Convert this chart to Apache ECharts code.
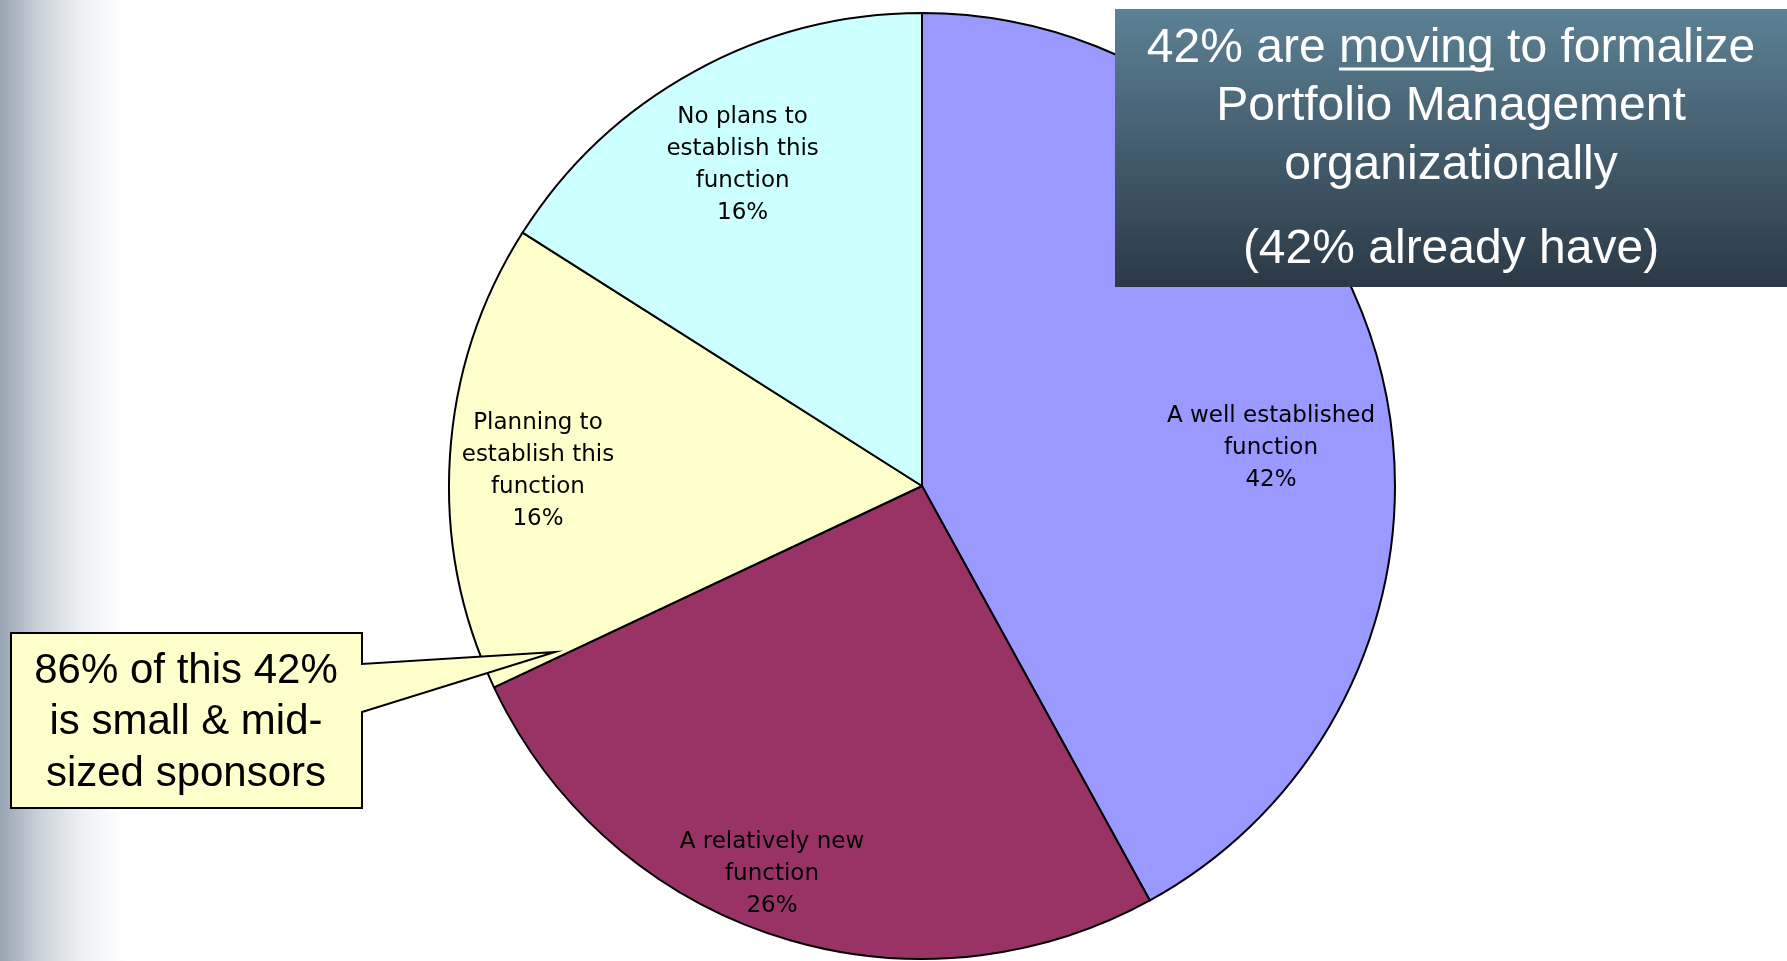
<!DOCTYPE html>
<html>
<head>
<meta charset="utf-8">
<script src="https://cdn.jsdelivr.net/npm/echarts@6/dist/echarts.min.js"></script>
<style>
  html, body { margin: 0; padding: 0; background: #ffffff; }
  #chart { width: 1787px; height: 961px; }
</style>
</head>
<body>
<div id="chart"></div>
<script>
// Status of the Portfolio Management function among sponsors
const categories = [
  'A well established\nfunction',
  'A relatively new\nfunction',
  'Planning to\nestablish this\nfunction',
  'No plans to\nestablish this\nfunction'
];
const shares = [42, 26, 16, 16];
const sliceColors = ['#9999FF', '#993366', '#FFFFCC', '#CCFFFF'];

// Headline box and callout wording
const headlineLines = ['42% are moving to formalize', 'Portfolio Management', 'organizationally', '(42% already have)'];
const underlinedWord = 'moving';
const calloutLines = ['86% of this 42%', 'is small & mid-', 'sized sponsors'];

// Per-slice label nudges (px) away from the default mid-radius spot
const labelNudge = [[117, 22], [-76, 160], [-145, 0], [-64, -111]];

const chart = echarts.init(document.getElementById('chart'), null, { renderer: 'canvas' });

// headline and callout geometry
const HEAD = { x: 1115, y: 9, w: 672, h: 278, cx: 1451, lineY: [49, 107, 166, 250], size: 48, sx: 1 };
const CALL = { x: 11, y: 633, w: 351, h: 175, cx: 186, lineY: [671, 722, 774], size: 42, sx: 1 };

// measure the underlined word inside the first headline line
const ctx = document.createElement('canvas').getContext('2d');
ctx.font = HEAD.size + 'px "Liberation Sans"';
const firstLine = headlineLines[0];
const idx = firstLine.indexOf(underlinedWord);
const wFull = ctx.measureText(firstLine).width * HEAD.sx;
const wPre = ctx.measureText(firstLine.slice(0, idx)).width * HEAD.sx;
const wWord = ctx.measureText(underlinedWord).width * HEAD.sx;
const ulX1 = HEAD.cx - wFull / 2 + wPre;
const ulX2 = ulX1 + wWord;

function textLine(str, cx, cy, size, sx, color) {
  return {
    type: 'text', x: cx, y: cy, scaleX: sx, z: 120,
    style: {
      text: str, x: 0, y: 0, fill: color,
      font: size + 'px "Liberation Sans", Arial, sans-serif',
      align: 'center', verticalAlign: 'middle'
    }
  };
}

const graphics = [
  // soft grey band along the left edge
  {
    type: 'rect', z: -10, silent: true,
    shape: { x: 0, y: 0, width: 125, height: 961 },
    style: {
      fill: new echarts.graphic.LinearGradient(0, 0, 1, 0, [
        { offset: 0, color: '#97a4b1' },
        { offset: 0.3, color: '#c8d0d7' },
        { offset: 0.65, color: '#eef1f3' },
        { offset: 1, color: '#ffffff' }
      ])
    }
  },
  // headline box
  {
    type: 'rect', z: 110,
    shape: { x: HEAD.x, y: HEAD.y, width: HEAD.w, height: HEAD.h },
    style: {
      fill: new echarts.graphic.LinearGradient(0, 0, 0, 1, [
        { offset: 0, color: '#5c8195' },
        { offset: 1, color: '#2b3946' }
      ])
    }
  },
  {
    type: 'line', z: 121,
    shape: { x1: ulX1, y1: 69, x2: ulX2, y2: 69 },
    style: { stroke: '#ffffff', lineWidth: 3 }
  },
  // callout with pointer
  {
    type: 'polygon', z: 110,
    shape: {
      points: [
        [CALL.x, CALL.y], [CALL.x + CALL.w, CALL.y], [CALL.x + CALL.w, 664],
        [555, 652], [CALL.x + CALL.w, 712], [CALL.x + CALL.w, CALL.y + CALL.h],
        [CALL.x, CALL.y + CALL.h]
      ]
    },
    style: { fill: '#FFFFCC', stroke: '#000000', lineWidth: 2, lineJoin: 'miter' }
  }
];
headlineLines.forEach((s, i) => graphics.push(textLine(s, HEAD.cx, HEAD.lineY[i], HEAD.size, HEAD.sx, '#ffffff')));
calloutLines.forEach((s, i) => graphics.push(textLine(s, CALL.cx, CALL.lineY[i], CALL.size, CALL.sx, '#000000')));

chart.setOption({
  backgroundColor: '#ffffff',
  animation: false,
  graphic: { elements: graphics },
  series: [{
    type: 'pie',
    center: [922, 486],
    radius: 473,
    startAngle: 90,
    clockwise: true,
    avoidLabelOverlap: false,
    emphasis: { disabled: true },
    itemStyle: { borderColor: '#000000', borderWidth: 2 },
    label: {
      show: true,
      position: 'inside',
      color: '#000000',
      fontFamily: '"DejaVu Sans", Verdana, sans-serif',
      fontSize: 23,
      lineHeight: 32,
      align: 'center',
      formatter: p => p.name + '\n' + p.value + '%'
    },
    labelLine: { show: false },
    labelLayout: p => ({ dx: labelNudge[p.dataIndex][0], dy: labelNudge[p.dataIndex][1] }),
    data: categories.map((name, i) => ({
      name: name,
      value: shares[i],
      itemStyle: { color: sliceColors[i] }
    }))
  }]
});
</script>
</body>
</html>
